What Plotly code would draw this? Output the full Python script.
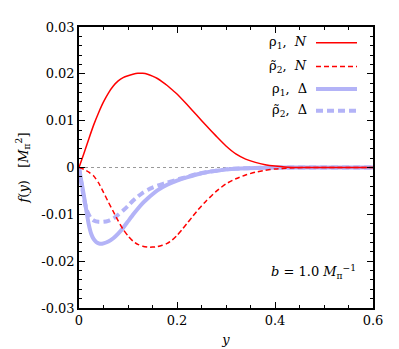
import plotly.graph_objects as go

# Data
x_rho1_N = [0, 0.01, 0.02, 0.03, 0.04, 0.05, 0.06, 0.07, 0.08, 0.09, 0.10, 0.11, 0.12, 0.13, 0.14, 0.15, 0.16, 0.17, 0.18, 0.19, 0.20,
            0.22, 0.24, 0.26, 0.28, 0.30, 0.32, 0.34, 0.36, 0.38, 0.40, 0.42, 0.45, 0.6]
y_rho1_N = [0, 0.0030, 0.0061, 0.0091, 0.0117, 0.0140, 0.0159, 0.0174, 0.0185, 0.0192, 0.0196, 0.0199, 0.0201, 0.0201, 0.0199, 0.0195, 0.0190, 0.0183, 0.0175, 0.0166, 0.0157,
            0.0135, 0.0112, 0.0089, 0.0067, 0.0046, 0.0029, 0.0018, 0.0011, 0.0006, 0.0003, 0.0001, 0.0, 0.0]

x_rho2_N = [0, 0.01, 0.02, 0.03, 0.04, 0.05, 0.06, 0.07, 0.08, 0.09, 0.10, 0.11, 0.12, 0.13, 0.14, 0.15, 0.16, 0.17, 0.18, 0.19, 0.20,
            0.21, 0.22, 0.23, 0.24, 0.25, 0.26, 0.28, 0.30, 0.32, 0.34, 0.36, 0.38, 0.40, 0.43, 0.46, 0.6]
y_rho2_N = [0, -0.0004, -0.0010, -0.0018, -0.0033, -0.0053, -0.0074, -0.0094, -0.0114, -0.0132, -0.0146, -0.0157, -0.0164, -0.0168, -0.0170, -0.0170, -0.0169, -0.0166, -0.0162, -0.0155, -0.0145,
            -0.0133, -0.0120, -0.0107, -0.0094, -0.0082, -0.0071, -0.0051, -0.0035, -0.0024, -0.0016, -0.0010, -0.0006, -0.0003, -0.0001, 0.0, 0.0]

x_rho1_D = [0, 0.005, 0.01, 0.015, 0.02, 0.025, 0.03, 0.035, 0.04, 0.045, 0.05, 0.06, 0.07, 0.08, 0.09, 0.10, 0.11, 0.12, 0.13, 0.14, 0.15, 0.16,
            0.18, 0.20, 0.22, 0.24, 0.26, 0.28, 0.30, 0.33, 0.36, 0.40, 0.6]
y_rho1_D = [0, -0.0030, -0.0060, -0.0092, -0.0122, -0.0142, -0.0153, -0.0159, -0.0162, -0.0163, -0.0162, -0.0158, -0.0151, -0.0141, -0.0129, -0.0115, -0.0101, -0.0088, -0.0076, -0.0066, -0.0057, -0.0049,
            -0.0037, -0.0028, -0.0021, -0.0015, -0.0010, -0.0007, -0.0004, -0.0002, -0.0001, 0.0, 0.0]

x_rho2_D = [0, 0.005, 0.01, 0.015, 0.02, 0.025, 0.03, 0.04, 0.05, 0.06, 0.07, 0.08, 0.09, 0.10, 0.11, 0.12, 0.13, 0.14, 0.15, 0.16,
            0.18, 0.20, 0.22, 0.24, 0.26, 0.28, 0.30, 0.33, 0.36, 0.40, 0.6]
y_rho2_D = [0, -0.0035, -0.0066, -0.0088, -0.0101, -0.0109, -0.0113, -0.0116, -0.0116, -0.0114, -0.0109, -0.0101, -0.0092, -0.0082, -0.0071, -0.0062, -0.0054, -0.0048, -0.0043, -0.0039,
            -0.0032, -0.0026, -0.0020, -0.0014, -0.0010, -0.0007, -0.0004, -0.0002, -0.0001, 0.0, 0.0]

x_ticks = [0, 0.2, 0.4, 0.6]
x_ticklabels = ["0", "0.2", "0.4", "0.6"]
y_ticks = [-0.03, -0.02, -0.01, 0, 0.01, 0.02, 0.03]
y_ticklabels = ["-0.03", "-0.02", "-0.01", "0", "0.01", "0.02", "0.03"]

legend_labels = ["ρ<sub>1</sub>,  <i>N</i>", "ρ̃<sub>2</sub>,  <i>N</i>",
                 "ρ<sub>1</sub>,  Δ", "ρ̃<sub>2</sub>,  Δ"]

RED = "#ff0000"
BLUE = "#b3b3f7"
FONT = "DejaVu Serif"
FS = 13

styles = [
    dict(color=RED, width=1.5, dash="solid"),
    dict(color=RED, width=1.5, dash="5px,3px"),
    dict(color=BLUE, width=4, dash="solid"),
    dict(color=BLUE, width=4, dash="7px,4px"),
]

fig = go.Figure()

# zero reference line
fig.add_trace(go.Scatter(x=[0, 0.6], y=[0, 0], mode="lines",
                         line=dict(color="#999999", width=1, dash="dot"),
                         showlegend=False, hoverinfo="skip"))

series = [(x_rho2_D, y_rho2_D, 3), (x_rho1_D, y_rho1_D, 2),
          (x_rho2_N, y_rho2_N, 1), (x_rho1_N, y_rho1_N, 0)]
for xs, ys, i in series:
    fig.add_trace(go.Scatter(x=xs, y=ys, mode="lines",
                             line=dict(shape="spline", smoothing=0.6, **styles[i]),
                             showlegend=False))

# empty trace to activate the mirrored (top/right) tick axes
fig.add_trace(go.Scatter(x=[], y=[], xaxis="x2", yaxis="y2", showlegend=False, hoverinfo="skip"))

# manual legend (text left of line sample)
W, H = 399, 349
l, r, t, b = 71, 34, 17, 47
pw, ph = W - l - r, H - t - b
def px2paper(px, py):
    return (px - l) / pw, (H - b - py) / ph

leg_y = [33, 57, 80, 102]
for i, (lab, py) in enumerate(zip(legend_labels, leg_y)):
    xt, yt = px2paper(301, py)
    fig.add_annotation(x=xt, y=yt, xref="paper", yref="paper", text=lab,
                       showarrow=False, xanchor="right", yanchor="middle",
                       font=dict(family=FONT, size=FS, color="black"))
    x0, y0 = px2paper(308, py)
    x1, _ = px2paper(349, py)
    st = styles[i]
    fig.add_shape(type="line", xref="paper", yref="paper", x0=x0, x1=x1, y0=y0, y1=y0,
                  line=dict(color=st["color"], width=st["width"], dash=st["dash"]))

xb, yb = px2paper(350, 265)
fig.add_annotation(x=xb, y=yb, xref="paper", yref="paper",
                   text="<i>b</i> = 1.0 <i>M</i><sub>π</sub><sup>−1</sup>",
                   showarrow=False, xanchor="right", yanchor="middle",
                   font=dict(family=FONT, size=FS, color="black"))

axis_common = dict(showline=True, linecolor="black", linewidth=1.5, mirror=True,
                   ticks="inside", ticklen=6, tickwidth=1.2, tickcolor="black",
                   showgrid=False, zeroline=False,
                   tickfont=dict(family=FONT, size=FS, color="black"))

xminor = dict(ticks="inside", ticklen=3, dtick=0.05, tick0=0, tickcolor="black", showgrid=False)
yminor = dict(ticks="inside", ticklen=3, dtick=0.002, tick0=0, tickcolor="black", showgrid=False)

fig.update_layout(
    xaxis=dict(range=[0, 0.6], tickvals=x_ticks, ticktext=x_ticklabels, minor=xminor,
               title=dict(text="<i>y</i>", font=dict(family=FONT, size=FS, color="black"), standoff=8),
               **axis_common),
    yaxis=dict(range=[-0.03, 0.03], tickvals=y_ticks, ticktext=y_ticklabels, minor=yminor,
               title=dict(text="<i>f</i>(<i>y</i>)   [<i>M</i><sub>π</sub><sup>2</sup>]",
                          font=dict(family=FONT, size=FS, color="black"), standoff=10),
               **axis_common),
    xaxis2=dict(range=[0, 0.6], overlaying="x", side="top", anchor="y2", tickvals=x_ticks,
                showticklabels=False, ticks="inside", ticklen=6, tickwidth=1.2, tickcolor="black",
                minor=xminor, showgrid=False, zeroline=False, showline=False),
    yaxis2=dict(range=[-0.03, 0.03], overlaying="y", side="right", anchor="x2", tickvals=y_ticks,
                showticklabels=False, ticks="inside", ticklen=6, tickwidth=1.2, tickcolor="black",
                minor=yminor, showgrid=False, zeroline=False, showline=False),
    width=W, height=H, margin=dict(l=l, r=r, t=t, b=b),
    plot_bgcolor="white", paper_bgcolor="white", showlegend=False,
    font=dict(family=FONT),
)

fig.write_html("out.html")
